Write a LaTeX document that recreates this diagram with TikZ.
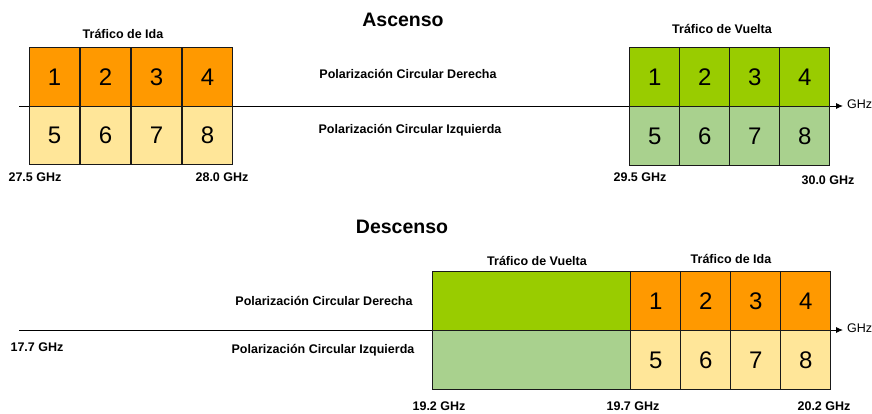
\documentclass[tikz,border=0pt]{standalone}
\usepackage{fontspec}
\setmainfont{Liberation Sans}
\usepackage{tikz}
\usetikzlibrary{arrows.meta}
\definecolor{idadark}{RGB}{255,153,0}
\definecolor{idalight}{RGB}{255,230,153}
\definecolor{vueltadark}{RGB}{153,204,0}
\definecolor{vueltalight}{RGB}{169,209,142}
\tikzset{
    cell/.style={draw=black!90, line width=1.4pt, inner sep=0pt, anchor=north west,
        minimum width=49.5pt, font=\fontsize{24}{24}\selectfont},
    lbl/.style={font=\fontsize{12.5}{14}\selectfont\bfseries, inner sep=0pt},
    title/.style={font=\fontsize{19.5}{21}\selectfont\bfseries, inner sep=0pt},
    axis/.style={line width=0.9pt, -{Latex[length=7pt,width=6pt]}}
}

\begin{document}
\begin{tikzpicture}[x=1pt, y=-1pt]
    \useasboundingbox (0,0) rectangle (872,414);

    % Ascenso
    \node[title] (asc) at (403,20) {Ascenso};
    \coordinate (a0) at (19,106);
    \coordinate (a1) at (843,106);
    \draw[axis] (a0) -- (a1);
    \node[anchor=west, font=\fontsize{12.5}{14}\selectfont, inner sep=0pt] (ghzA) at (847,104) {GHz};

    % Trafico de ida (ascenso)
    \foreach \i in {1,...,4} {
        \node[cell, fill=idadark, minimum height=59pt] (ai\i) at ({29+51*(\i-1)},47) {\i};
        \pgfmathtruncatemacro{\j}{\i+4}
        \node[cell, fill=idalight, minimum height=58pt] (ai\j) at ({29+51*(\i-1)},106) {\j};
    }
    \node[lbl] (aida) at (123,34) {Tráfico de Ida};

    % Trafico de vuelta (ascenso)
    \foreach \i in {1,...,4} {
        \node[cell, fill=vueltadark, minimum width=50pt, minimum height=59pt] (av\i) at ({629+50*(\i-1)},47) {\i};
        \pgfmathtruncatemacro{\j}{\i+4}
        \node[cell, fill=vueltalight, minimum width=50pt, minimum height=59pt] (av\j) at ({629+50*(\i-1)},106) {\j};
    }
    \node[lbl] (avuelta) at (722,29) {Tráfico de Vuelta};

    \node[lbl] (apd) at (408,74) {Polarización Circular Derecha};
    \node[lbl] (api) at (410,130) {Polarización Circular Izquierda};

    % Frecuencias (ascenso)
    \foreach \x/\y/\f in {35/177/27.5, 222/177/28.0, 640/177/29.5, 828/180/30.0} {
        \node[lbl] (fa\f) at (\x,\y) {\f\ GHz};
    }

    % Descenso
    \node[title] (desc) at (402,227) {Descenso};
    \coordinate (d0) at (19,330);
    \coordinate (d1) at (843,330);
    \draw[axis] (d0) -- (d1);
    \node[anchor=west, font=\fontsize{12.5}{14}\selectfont, inner sep=0pt] (ghzD) at (847,328) {GHz};

    % Trafico de vuelta (descenso)
    \node[cell, fill=vueltadark, minimum width=198pt, minimum height=59pt] (dvup) at (432,271) {};
    \node[cell, fill=vueltalight, minimum width=198pt, minimum height=59pt] (dvdown) at (432,330) {};
    \node[lbl] (dvuelta) at (537,261) {Tráfico de Vuelta};

    % Trafico de ida (descenso)
    \foreach \i in {1,...,4} {
        \node[cell, fill=idadark, minimum width=50pt, minimum height=59pt] (di\i) at ({630+50*(\i-1)},271) {\i};
        \pgfmathtruncatemacro{\j}{\i+4}
        \node[cell, fill=idalight, minimum width=50pt, minimum height=59pt] (di\j) at ({630+50*(\i-1)},330) {\j};
    }
    \node[lbl] (dida) at (731,259) {Tráfico de Ida};

    \node[lbl] (dpd) at (324,301) {Polarización Circular Derecha};
    \node[lbl] (dpi) at (323,350) {Polarización Circular Izquierda};

    % Frecuencias (descenso)
    \foreach \x/\y/\f in {37/347/17.7, 439/406/19.2, 633/406/19.7, 824/406/20.2} {
        \node[lbl] (fd\f) at (\x,\y) {\f\ GHz};
    }
\end{tikzpicture}
\end{document}
